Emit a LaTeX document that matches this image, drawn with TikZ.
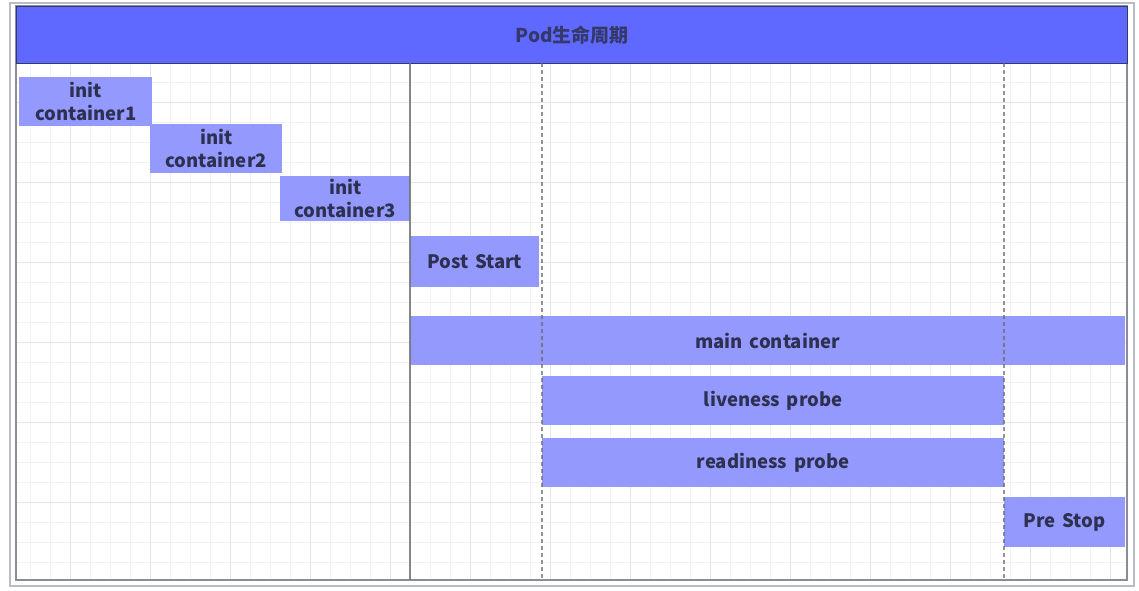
\documentclass[tikz,border=0pt]{standalone}
\usepackage{fontspec}
\setmainfont{Noto Sans CJK SC}[WordSpace=1.6]
\definecolor{titlefill}{HTML}{5F69FF}
\definecolor{titledraw}{HTML}{34386A}
\definecolor{boxfill}{HTML}{9499FE}
\definecolor{txt}{HTML}{2D3050}
\definecolor{gridmin}{HTML}{F1F3F1}
\definecolor{gridmaj}{HTML}{E4E8E4}
\definecolor{frameout}{HTML}{B8BCC4}
\definecolor{framein}{HTML}{8A8E94}
\tikzset{
  phase/.style={fill=boxfill, draw=none, inner sep=0pt, anchor=north west,
    align=center, text=txt, font=\fontsize{18.5}{23}\selectfont\bfseries},
  vline/.style={draw=gray!90!black, line width=1.4pt},
  dline/.style={draw=gray!80!black, line width=1.1pt, dash pattern=on 4pt off 3pt},
}
\begin{document}
\begin{tikzpicture}[x=1pt,y=-1pt]
\useasboundingbox (0,0) rectangle (1139,590);
\fill[white] (0,0) rectangle (1139,590);
% frames
\draw[frameout, line width=1.2pt] (10,3) rectangle (1134,586);
% grid
\foreach \x in {30,50,...,1110} \draw[gridmin, line width=0.8pt] (\x,63) -- (\x,580);
\foreach \y in {82,102,...,562} \draw[gridmin, line width=0.8pt] (16,\y) -- (1127,\y);
\foreach \x in {70,150,...,1110} \draw[gridmaj, line width=1pt] (\x,63) -- (\x,580);
\foreach \y in {102,182,...,502} \draw[gridmaj, line width=1pt] (16,\y) -- (1127,\y);
\draw[framein, line width=1.2pt] (16,6) rectangle (1127,580);
% title
\node[fill=titlefill, draw=titledraw, line width=1.2pt, anchor=north west, inner sep=0pt,
  minimum width=1111pt, minimum height=57pt, text=titledraw,
  font=\fontsize{19}{22}\selectfont\bfseries] (title) at (16,6) {Pod生命周期};
% phases
\node[phase, minimum width=133pt, minimum height=49pt] (ic1) at (19,77) {init\\container1};
\node[phase, minimum width=132pt, minimum height=49pt] (ic2) at (150,124) {init\\container2};
\node[phase, minimum width=130pt, minimum height=45pt] (ic3) at (280,176) {init\\container3};
\node[phase, minimum width=129pt, minimum height=51pt] (post) at (410,236) {Post Start};
\node[phase, minimum width=715pt, minimum height=49pt] (main) at (410,316) {main container};
\node[phase, minimum width=462pt, minimum height=49pt] (live) at (542,376) {liveness probe};
\node[phase, minimum width=462pt, minimum height=49pt] (ready) at (542,438) {readiness probe};
\node[phase, minimum width=121pt, minimum height=50pt] (pre) at (1004,497) {Pre Stop};
% timeline markers
\coordinate (s1) at (410,63); \coordinate (e1) at (410,580);
\coordinate (s2) at (542,63); \coordinate (e2) at (542,580);
\coordinate (s3) at (1004,63); \coordinate (e3) at (1004,580);
\draw[vline, opacity=0.85] (s1) -- (e1);
\draw[dline, opacity=0.7] (s2) -- (e2);
\draw[dline, opacity=0.7] (s3) -- (e3);
\end{tikzpicture}
\end{document}
